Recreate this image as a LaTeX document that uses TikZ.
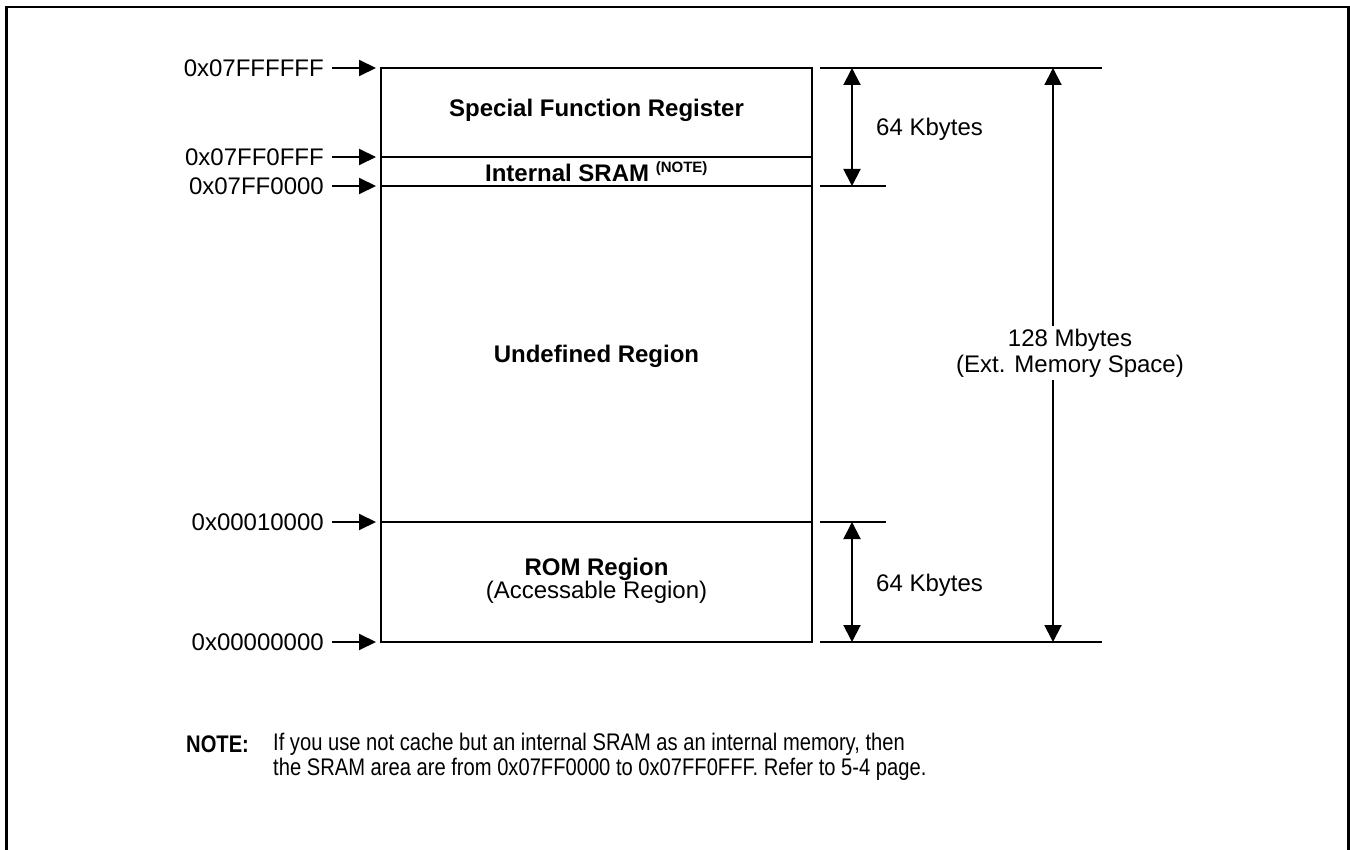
\documentclass[tikz,border=0pt]{standalone}
\usepackage{fontspec}
\setmainfont{Liberation Sans}
\newfontfamily\narrowfont[FakeStretch=0.84]{Liberation Sans}
\usetikzlibrary{arrows.meta}
\begin{document}
\begin{tikzpicture}[x=1pt,y=-1pt,
  every node/.style={font=\fontsize{24}{27}\selectfont, inner sep=0pt},
  boxline/.style={line width=2pt},
  extline/.style={line width=2pt},
  addrarrow/.style={line width=2pt, -{Triangle[length=17pt,width=16pt]}},
  dimarrow/.style={line width=2pt, {Triangle[length=17pt,width=17pt]}-{Triangle[length=17pt,width=17pt]}},
  addr/.style={anchor=east},
  region/.style={font=\fontsize{24}{27}\selectfont\bfseries},
  frameline/.style={line width=2.6pt}]
\useasboundingbox (0,0) rectangle (1350,850);
% outer frame (open at bottom, cut by page)
\draw[frameline] (6.5,900) -- (6.5,7) -- (1348.5,7) -- (1348.5,900);

% box corners and divider ends
\coordinate (tl) at (381,68);
\coordinate (tr) at (812,68);
\coordinate (bl) at (381,642);
\coordinate (br) at (812,642);
\coordinate (s1l) at (381,157);
\coordinate (s1r) at (812,157);
\coordinate (s2l) at (381,186);
\coordinate (s2r) at (812,186);
\coordinate (s3l) at (381,522);
\coordinate (s3r) at (812,522);

\draw[boxline] (tl) rectangle (br);
\draw[boxline] (s1l) -- (s1r);
\draw[boxline] (s2l) -- (s2r);
\draw[boxline] (s3l) -- (s3r);

% region labels
\node[region] (sfr) at (596.5,110) {Special Function Register};
\node[region] (sram) at (596.5,172) {Internal SRAM \textsuperscript{\fontsize{15}{17}\selectfont (NOTE)}};
\node[region] (undef) at (596.5,356) {Undefined Region};
\node[region] (rom) at (596.5,569) {ROM Region};
\node (acc) at (596.5,592) {(Accessable Region)};

% address labels
\node[addr] (a1) at (324,68) {0x07FFFFFF};
\node[addr] (a2) at (324,157) {0x07FF0FFF};
\node[addr] (a3) at (324,186) {0x07FF0000};
\node[addr] (a4) at (324,522) {0x00010000};
\node[addr] (a5) at (324,642) {0x00000000};
\foreach \a/\t in {a1/tl,a2/s1l,a3/s2l,a4/s3l,a5/bl}
  \draw[addrarrow] ([xshift=8pt]\a.east) -- ([xshift=-5pt]\t);

% extension lines
\coordinate (e1a) at (820,68);   \coordinate (e1b) at (1102,68);
\coordinate (e2a) at (820,186);  \coordinate (e2b) at (886,186);
\coordinate (e3a) at (820,522);  \coordinate (e3b) at (886,522);
\coordinate (e4a) at (820,642);  \coordinate (e4b) at (1102,642);
\draw[extline] (e1a) -- (e1b);
\draw[extline] (e2a) -- (e2b);
\draw[extline] (e3a) -- (e3b);
\draw[extline] (e4a) -- (e4b);

% dimension arrows
\coordinate (d1t) at (852,68);  \coordinate (d1b) at (852,186);
\coordinate (d2t) at (852,522); \coordinate (d2b) at (852,642);
\coordinate (d3t) at (1053,68); \coordinate (d3b) at (1053,642);
\draw[dimarrow] (d1t) -- (d1b);
\draw[dimarrow] (d2t) -- (d2b);
\draw[dimarrow] (d3t) -- (d3b);

\node[anchor=west] (k1) at (876,129) {64 Kbytes};
\node[anchor=west] (k2) at (876,585) {64 Kbytes};
\node[fill=white, align=center, inner ysep=3pt, font=\fontsize{24}{26}\selectfont] (mb) at (1070,353) {128 Mbytes\\(Ext. Memory Space)};

% note
\node[anchor=west, font=\fontsize{24}{27}\selectfont\narrowfont\bfseries] (note) at (186,744) {NOTE:};
\node[anchor=north west, align=left, font=\fontsize{24}{25}\selectfont\narrowfont] (notetext) at (273,733) {If you use not cache but an internal SRAM as an internal memory, then\\the SRAM area are from 0x07FF0000 to 0x07FF0FFF. Refer to 5-4 page.};
\end{tikzpicture}
\end{document}
